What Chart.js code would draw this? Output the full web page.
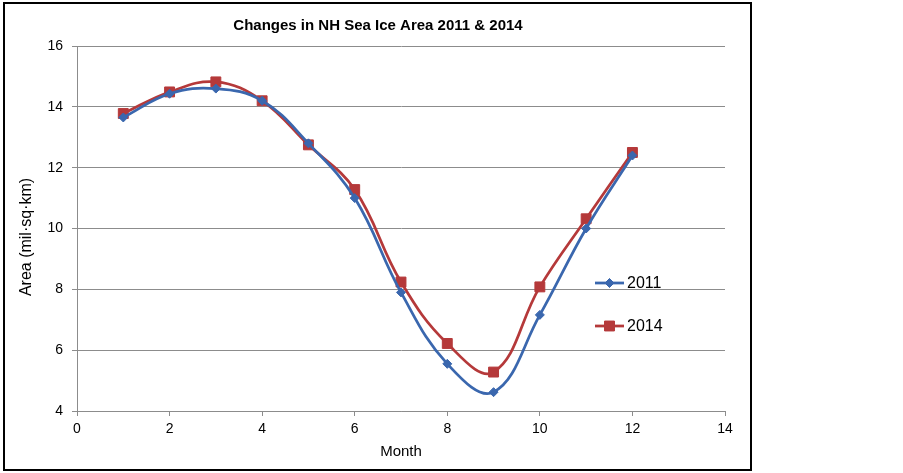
<!DOCTYPE html>
<html>
<head>
<meta charset="utf-8">
<script src="https://cdn.jsdelivr.net/npm/chart.js@4/dist/chart.umd.min.js"></script>
<style>
  html, body { margin: 0; padding: 0; background: #fff; }
  #c { display: block; }
</style>
</head>
<body>
<canvas id="c" width="903" height="473"></canvas>
<script>
const chartTitle = 'Changes in NH Sea Ice Area 2011 & 2014';
const months = [1, 2, 3, 4, 5, 6, 7, 8, 9, 10, 11, 12];
const area2011 = [13.65, 14.43, 14.6, 14.2, 12.8, 11.0, 7.9, 5.55, 4.62, 7.16, 10.0, 12.4];
const area2014 = [13.78, 14.49, 14.82, 14.2, 12.75, 11.28, 8.24, 6.22, 5.28, 8.08, 10.32, 12.5];
const seriesNames = ['2011', '2014'];
const xTitle = 'Month';
const yTitle = 'Area (mil·sq·km)';

const BLUE = '#3a67ae';
const RED = '#b5393a';
const FONT = '"Liberation Sans", Arial, sans-serif';

const toPts = (vals) => months.map((m, i) => ({ x: m, y: vals[i] }));

const decor = {
  id: 'decor',
  afterDraw(chart) {
    const ctx = chart.ctx;
    ctx.save();
    // outer border
    ctx.strokeStyle = '#000';
    ctx.lineWidth = 2;
    ctx.strokeRect(4, 3, 747, 467);
    // title
    ctx.fillStyle = '#000';
    ctx.font = 'bold 15px ' + FONT;
    ctx.textAlign = 'center';
    ctx.textBaseline = 'middle';
    ctx.fillText(chartTitle, 378, 26);
    // axis titles
    ctx.font = '15px ' + FONT;
    ctx.fillText(xTitle, 401, 452);
    ctx.save();
    ctx.translate(27, 237);
    ctx.rotate(-Math.PI / 2);
    ctx.font = '16px ' + FONT;
    ctx.fillText(yTitle, 0, 0);
    ctx.restore();
    // legend
    const items = [
      { name: seriesNames[0], color: BLUE, style: 'rectRot', r: 4.5, y: 283 },
      { name: seriesNames[1], color: RED, style: 'rect', r: 7, y: 326 }
    ];
    ctx.font = '16px ' + FONT;
    ctx.textAlign = 'left';
    items.forEach(it => {
      ctx.strokeStyle = it.color;
      ctx.lineWidth = 2.75;
      ctx.beginPath();
      ctx.moveTo(595, it.y);
      ctx.lineTo(624, it.y);
      ctx.stroke();
      ctx.fillStyle = it.color;
      ctx.lineWidth = 1;
      Chart.helpers.drawPoint(ctx, { pointStyle: it.style, radius: it.r, borderWidth: 1, rotation: 0 }, 609.5, it.y);
      ctx.fill();
      ctx.fillStyle = '#000';
      ctx.fillText(it.name, 627, it.y + 1);
    });
    ctx.restore();
  }
};

new Chart(document.getElementById('c'), {
  type: 'line',
  data: {
    datasets: [
      {
        label: seriesNames[0],
        data: toPts(area2011),
        borderColor: BLUE,
        backgroundColor: BLUE,
        borderWidth: 2.75,
        tension: 0.4,
        pointStyle: 'rectRot',
        pointRadius: 4.5,
        pointBorderWidth: 1,
        fill: false
      },
      {
        label: seriesNames[1],
        data: toPts(area2014),
        borderColor: RED,
        backgroundColor: RED,
        borderWidth: 2.75,
        tension: 0.4,
        pointStyle: 'rect',
        pointRadius: 7,
        pointBorderWidth: 1,
        fill: false
      }
    ]
  },
  options: {
    responsive: false,
    animation: false,
    devicePixelRatio: 1,
    layout: { padding: { left: 0, top: 46, right: 178, bottom: 0 } },
    plugins: {
      legend: { display: false },
      title: { display: false },
      tooltip: { enabled: false }
    },
    scales: {
      x: {
        type: 'linear',
        min: 0,
        max: 14,
        border: { color: '#8c8c8c', width: 1 },
        grid: { drawOnChartArea: false, color: '#8c8c8c', tickLength: 5 },
        ticks: { stepSize: 2, color: '#000', font: { family: FONT, size: 14 }, padding: 5, maxRotation: 0 },
        title: { display: false, text: xTitle },
        afterFit(s) { s.height = 62; }
      },
      y: {
        min: 4,
        max: 16,
        border: { color: '#8c8c8c', width: 1 },
        grid: { color: '#8c8c8c', tickLength: 5 },
        ticks: { stepSize: 2, color: '#000', font: { family: FONT, size: 14 }, padding: 9 },
        title: { display: false, text: yTitle },
        afterFit(s) { s.width = 77; }
      }
    }
  },
  plugins: [decor]
});
</script>
</body>
</html>
